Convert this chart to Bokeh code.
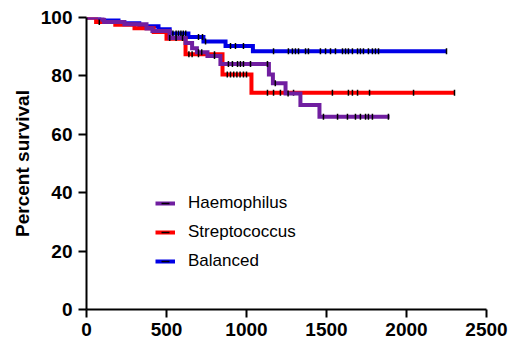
import numpy as np
from bokeh.plotting import figure
from bokeh.models import Range1d, Legend, LegendItem, FixedTicker
from bokeh.embed import file_html
from bokeh.resources import INLINE

# ---- data ----
hae_time = [0, 100, 110, 237, 375, 412, 519, 619, 660, 690, 756, 837, 1140, 1165, 1244, 1337, 1456]
hae_surv = [100, 99.2, 98.5, 97.7, 96.2, 95.4, 93.0, 91.3, 89.5, 88.1, 86.8, 84.1, 80.5, 77.5, 74.0, 70.0, 66.0]
hae_end = 1894
hae_cens = [520, 560, 600, 700, 720, 800, 887, 912, 944, 962, 981, 1025, 1131, 1180, 1260,
            1481, 1569, 1631, 1681, 1712, 1744, 1762, 1787, 1887]

str_time = [0, 60, 180, 300, 420, 500, 619, 850, 1031]
str_surv = [100, 98.5, 97.5, 96.3, 95.0, 92.7, 87.4, 80.5, 74.2]
str_end = 2300
str_cens = [80, 640, 660, 700, 760, 800, 880, 900, 920, 940, 960, 981, 1000, 1131, 1169, 1212,
            1294, 1537, 1637, 1662, 1694, 1769, 2044, 2300]

bal_time = [0, 80, 200, 330, 450, 520, 637, 731, 869, 1040]
bal_surv = [100, 99.0, 98.0, 97.0, 96.0, 94.5, 93.3, 91.8, 90.2, 88.4]
bal_end = 2250
bal_cens = [540, 560, 575, 590, 605, 620, 700, 725, 744, 900, 931, 981, 1169, 1262, 1287, 1306,
            1325, 1369, 1387, 1462, 1494, 1525, 1556, 1600, 1619, 1637, 1662, 1694, 1712, 1731,
            1762, 1787, 1806, 1825, 2250]

labels = ["Haemophilus", "Streptococcus", "Balanced"]
colors = ["#701ea0", "#ff0000", "#0000e6"]
x_ticks = [0, 500, 1000, 1500, 2000, 2500]
y_ticks = [0, 20, 40, 60, 80, 100]

FONT = "Liberation Sans"

p = figure(width=508, height=347, output_backend="svg", toolbar_location=None,
           x_range=Range1d(0, 2500), y_range=Range1d(0, 100),
           min_border_left=86, min_border_right=22, min_border_top=17, min_border_bottom=38)
p.outline_line_color = None
p.grid.visible = False
p.background_fill_color = "white"

groups = [
    (hae_time, hae_surv, hae_end, hae_cens, colors[0], labels[0]),
    (str_time, str_surv, str_end, str_cens, colors[1], labels[1]),
    (bal_time, bal_surv, bal_end, bal_cens, colors[2], labels[2]),
]

items = {}
# draw order: balanced, strep, haemophilus on top
for t, s, end, cens, col, lab in reversed(groups):
    xs = list(t) + [end]
    ys = list(s) + [s[-1]]
    r_line = p.step(x=xs, y=ys, mode="after", line_color=col, line_width=4, line_join="miter")
    ta = np.array(t)
    sa = np.array(s)
    c = np.array(cens)
    idx = np.searchsorted(ta, c, side="right") - 1
    cy = sa[idx]
    r_tick = p.scatter(x=c, y=cy, marker="dash", angle=np.pi / 2, size=6,
                       line_color="black", line_width=1.5)
    items[lab] = [r_line, r_tick]

legend = Legend(items=[LegendItem(label=lab, renderers=items[lab]) for lab in labels],
                location=(69, 38), padding=0, margin=0, spacing=9,
                glyph_width=20, glyph_height=20, label_height=20, label_standoff=13,
                label_text_font=FONT, label_text_font_size="17px", label_text_color="black",
                background_fill_alpha=0, border_line_color=None)
p.add_layout(legend, "center")

for ax in (p.xaxis, p.yaxis):
    ax.axis_line_color = "black"
    ax.axis_line_width = 2
    ax.major_tick_line_color = "black"
    ax.major_tick_line_width = 2
    ax.major_tick_out = 8
    ax.major_tick_in = 0
    ax.minor_tick_line_color = None
    ax.major_label_text_font = FONT
    ax.major_label_text_font_style = "bold"
    ax.major_label_text_font_size = "19px"
    ax.major_label_text_color = "black"
    ax.major_label_standoff = 5

p.yaxis.major_label_standoff = 6
p.xaxis.ticker = FixedTicker(ticks=x_ticks)
p.yaxis.ticker = FixedTicker(ticks=y_ticks)
p.yaxis.axis_label = "Percent survival"
p.yaxis.axis_label_text_font = FONT
p.yaxis.axis_label_text_font_style = "bold"
p.yaxis.axis_label_text_font_size = "19px"
p.yaxis.axis_label_text_color = "black"
p.yaxis.axis_label_standoff = 5

open("out.html", "w").write(file_html(p, INLINE))
